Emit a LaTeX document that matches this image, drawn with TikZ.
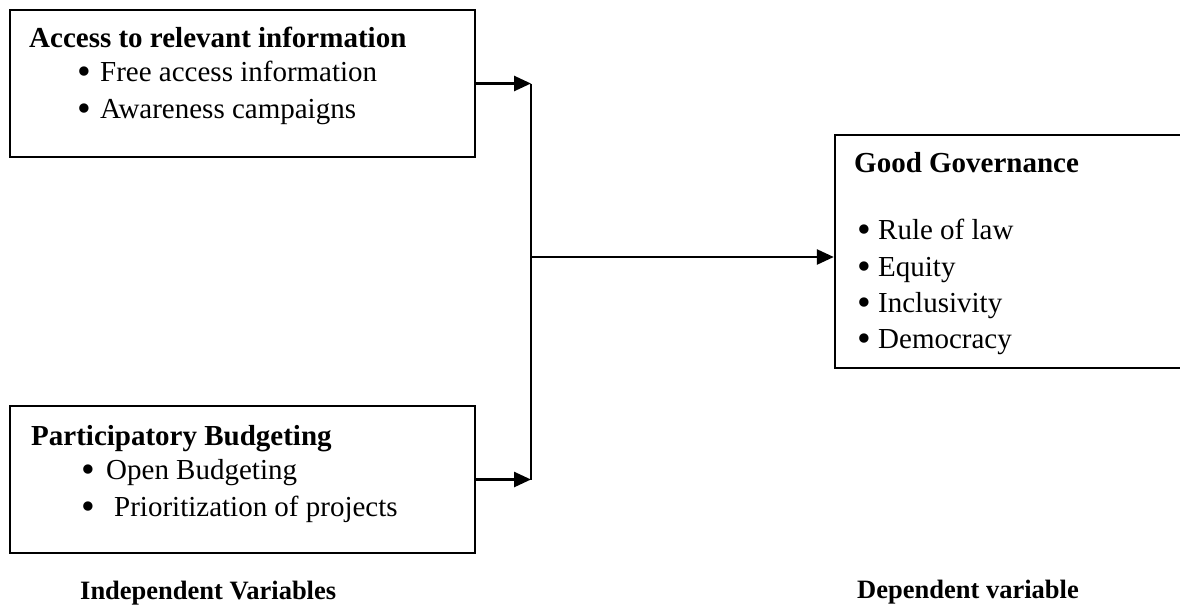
\documentclass[tikz,border=0pt]{standalone}
\usepackage{fontspec}
\setmainfont{Liberation Serif}
\usetikzlibrary{arrows.meta}

\tikzset{
  box/.style={draw, rectangle, line width=2.4pt, inner sep=0pt},
  head/.style={anchor=base west, inner sep=0pt, font=\fontsize{29}{35}\selectfont\bfseries},
  item/.style={anchor=base west, inner sep=0pt, font=\fontsize{29}{35}\selectfont},
  caption/.style={anchor=base west, inner sep=0pt, font=\fontsize{26.5}{32}\selectfont\bfseries},
  link/.style={line width=2.6pt, -{Triangle[length=17pt, width=15pt]}},
}
\newcommand{\bul}[2][21pt]{\makebox[#1][l]{\raisebox{-0.12em}{\scalebox{1.35}{\textbullet}}}#2}

\begin{document}
\begin{tikzpicture}[x=1pt, y=-1pt]
    \useasboundingbox (0, 0) rectangle (1180, 606);
    \clip (0, 0) rectangle (1180, 606);

    \node [box, minimum width=465pt, minimum height=147pt] (access) at (242.5, 83.5) {};
    \node [head] (accessT) at (29, 47) {Access to relevant information};
    \node [item] (access1) at (77, 81) {\bul[23pt]{Free access information}};
    \node [item] (access2) at (77, 118) {\bul[23pt]{Awareness campaigns}};

    \node [box, minimum width=465pt, minimum height=147pt] (budget) at (242.5, 479.5) {};
    \node [head] (budgetT) at (31, 445) {Participatory Budgeting};
    \node [item] (budget1) at (81, 479) {\bul[25pt]{Open Budgeting}};
    \node [item] (budget2) at (81, 516) {\bul[33pt]{Prioritization of projects}};

    \node [box, minimum width=355pt, minimum height=233pt] (govern) at (1012.5, 251.5) {};
    \node [head] (governT) at (854, 172) {Good Governance};
    \node [item] (govern1) at (857, 239) {\bul{Rule of law}};
    \node [item] (govern2) at (857, 276) {\bul{Equity}};
    \node [item] (govern3) at (857, 312) {\bul{Inclusivity}};
    \node [item] (govern4) at (857, 348) {\bul{Democracy}};

    \node [caption] (indep) at (80, 599) {Independent Variables};
    \node [caption] (dep) at (857, 598) {Dependent variable};

    \coordinate (jtop) at (531, 83.5);
    \coordinate (jmid) at (531, 257);
    \coordinate (jbot) at (531, 479.5);

    \draw [link] (access.east) -- (jtop);
    \draw [link] (budget.east) -- (jbot);
    \draw [line width=2.4pt] (jtop) -- (jbot);
    \draw [link] (jmid) -- (jmid -| govern.west);
\end{tikzpicture}
\end{document}
